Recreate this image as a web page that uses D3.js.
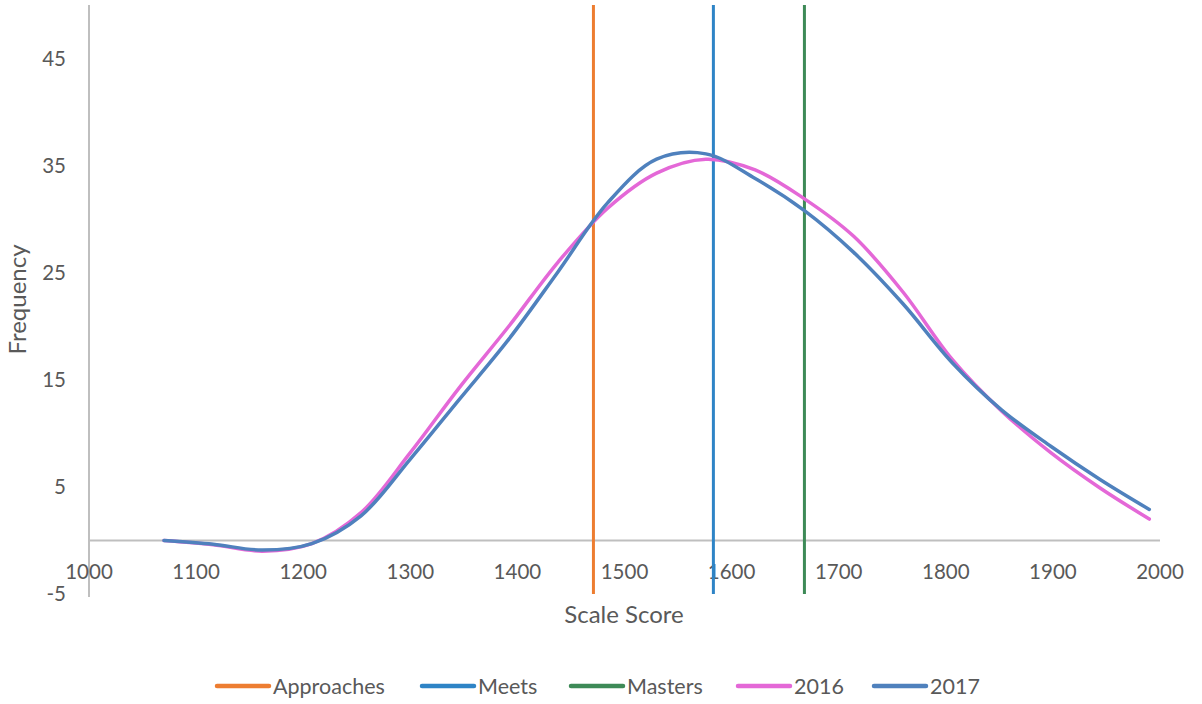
<!DOCTYPE html>
<html>
<head>
<meta charset="utf-8">
<script src="https://cdn.jsdelivr.net/npm/d3@7"></script>
<style>
  body { margin: 0; background: #fff; }
  text { font-family: Lato, 'Open Sans', sans-serif; fill: #595959; }
</style>
</head>
<body>
<div id="chart"></div>
<script>
// Scale score distribution, 2016 vs 2017

const scores = [1070, 1116, 1162, 1208, 1254, 1300, 1346, 1392, 1438, 1484, 1530,
                1576, 1622, 1668, 1714, 1760, 1806, 1852, 1898, 1944, 1990];
const freq2016 = [0, -0.4, -1.0, -0.3, 2.6, 8.2, 14.3, 20.0, 26.0, 31.0, 34.3,
                  35.6, 34.6, 31.9, 28.4, 23.2, 16.9, 12.1, 8.2, 4.9, 2.0];
const freq2017 = [0, -0.35, -0.9, -0.3, 2.3, 7.6, 13.2, 18.8, 25.1, 31.5, 35.6,
                  36.1, 33.8, 30.8, 26.9, 22.1, 16.6, 12.2, 8.8, 5.7, 2.9];

const cutNames = ['Approaches', 'Meets', 'Masters'];
const cutScores = [1471, 1583, 1668];
const cutRange = [-5, 50];

const xTicks = [1000, 1100, 1200, 1300, 1400, 1500, 1600, 1700, 1800, 1900, 2000];
const yTicks = [-5, 5, 15, 25, 35, 45];

const legendNames = ['Approaches', 'Meets', 'Masters', '2016', '2017'];

function init () {

  ////////////////////////////////////////////////////////////////////////////////
  // Setup
  const width = 1202;
  const height = 704;
  const plot = { left: 89, right: 1160, top: 5, bottom: 594 };

  const colour = d3.scaleOrdinal()
    .domain(legendNames)
    .range(['#ED7D31', '#2E84C6', '#3D8A57', '#E468D7', '#4F81BD']);

  const x = d3.scaleLinear()
    .domain([1000, 2000])
    .range([plot.left, plot.right]);
  const y = d3.scaleLinear()
    .domain([-5, 50])
    .range([plot.bottom, plot.top]);

  const svg = d3.select('#chart').append('svg')
    .attr('width', width)
    .attr('height', height);

  ////////////////////////////////////////////////////////////////////////////////
  // Axes (Excel style: the x axis crosses at 0, labels hang below it)
  svg.append('line')
    .attr('x1', x(1000)).attr('x2', x(2000))
    .attr('y1', y(0)).attr('y2', y(0))
    .attr('stroke', '#BFBFBF').attr('stroke-width', 2);

  svg.append('line')
    .attr('x1', x(1000)).attr('x2', x(1000))
    .attr('y1', y(50)).attr('y2', y(-5) + 3)
    .attr('stroke', '#BFBFBF').attr('stroke-width', 2);

  svg.append('g')
    .selectAll('text')
    .data(xTicks)
    .enter()
      .append('text')
      .attr('x', d => x(d))
      .attr('y', y(0) + 39)
      .attr('text-anchor', 'middle')
      .style('font-size', '20.5px')
      .text(d => d);

  svg.append('g')
    .selectAll('text')
    .data(yTicks)
    .enter()
      .append('text')
      .attr('x', 66)
      .attr('y', d => y(d) + 7)
      .attr('text-anchor', 'end')
      .style('font-size', '20.5px')
      .text(d => d);

  svg.append('text')
    .attr('x', 624)
    .attr('y', 623)
    .attr('text-anchor', 'middle')
    .style('font-size', '24px')
    .text('Scale Score');

  svg.append('text')
    .attr('transform', `translate(26, ${(plot.top + plot.bottom) / 2}) rotate(-90)`)
    .attr('text-anchor', 'middle')
    .style('font-size', '24px')
    .text('Frequency');

  ////////////////////////////////////////////////////////////////////////////////
  // Cut score lines
  svg.append('g')
    .selectAll('line')
    .data(cutNames)
    .enter()
      .append('line')
      .attr('x1', (d, i) => x(cutScores[i]))
      .attr('x2', (d, i) => x(cutScores[i]))
      .attr('y1', y(cutRange[0]))
      .attr('y2', y(cutRange[1]))
      .attr('stroke', d => colour(d))
      .attr('stroke-width', 3);

  ////////////////////////////////////////////////////////////////////////////////
  // Smoothed frequency curves
  const line = d3.line()
    .x(d => x(d[0]))
    .y(d => y(d[1]))
    .curve(d3.curveCatmullRom.alpha(0.5));

  const series = [
    { name: '2016', values: d3.zip(scores, freq2016) },
    { name: '2017', values: d3.zip(scores, freq2017) },
  ];

  svg.append('g')
    .selectAll('path')
    .data(series)
    .enter()
      .append('path')
      .attr('d', d => line(d.values))
      .attr('fill', 'none')
      .attr('stroke', d => colour(d.name))
      .attr('stroke-width', 3.5)
      .attr('stroke-linecap', 'round');

  ////////////////////////////////////////////////////////////////////////////////
  // Legend
  const legendX = [215, 420, 569, 736, 872];
  const legend = svg.append('g')
    .selectAll('g')
    .data(legendNames)
    .enter()
      .append('g')
      .attr('transform', (d, i) => `translate(${legendX[i]}, 686)`);

  legend.append('line')
    .attr('x1', 2).attr('x2', 54)
    .attr('stroke', d => colour(d))
    .attr('stroke-width', 4.5)
    .attr('stroke-linecap', 'round');

  legend.append('text')
    .attr('x', 58)
    .attr('y', 7.5)
    .style('font-size', '21.5px')
    .text(d => d);
}
init();
</script>
</body>
</html>
